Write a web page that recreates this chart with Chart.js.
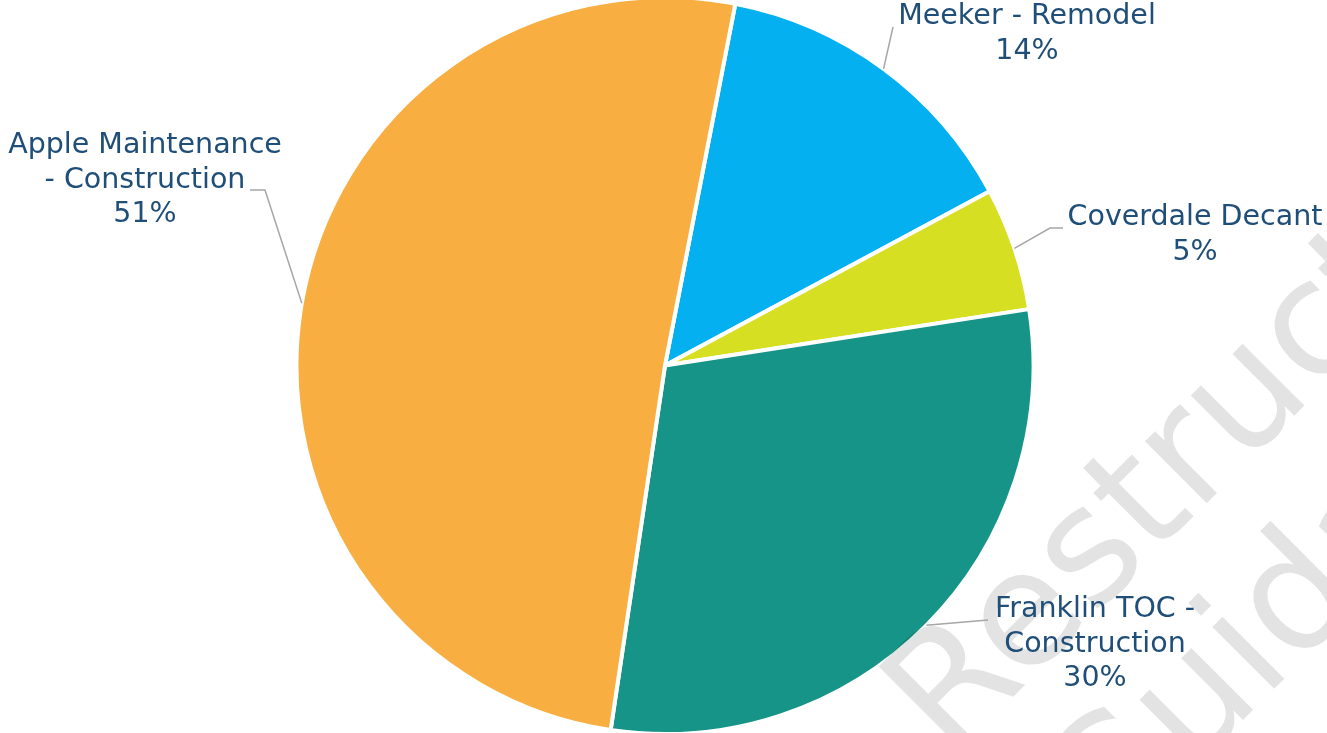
<!DOCTYPE html>
<html>
<head>
<meta charset="utf-8">
<script src="https://cdn.jsdelivr.net/npm/chart.js@4.4.1/dist/chart.umd.min.js"></script>
<style>
  html, body { margin: 0; padding: 0; background: #ffffff; overflow: hidden; }
  body { width: 1327px; height: 733px; position: relative; }
  #wrap { position: absolute; left: 0; top: -5px; width: 1327px; height: 741px; }
</style>
</head>
<body>
<div id="wrap"><canvas id="pieChart"></canvas></div>
<script>
// chart data
const categories = ['Meeker - Remodel', 'Coverdale Decant', 'Franklin TOC - Construction', 'Apple Maintenance - Construction'];
const shares = [14.1, 5.4, 29.8, 50.7];
const sliceColors = ['#04B0EF', '#D7DF23', '#169487', '#F9AE41'];

// how each label is broken into lines
const labelLines = [
    ['Meeker - Remodel'],
    ['Coverdale Decant'],
    ['Franklin TOC -', 'Construction'],
    ['Apple Maintenance', '- Construction']
];

// label placement (page pixels): centre of first text line, leader end, optional elbow
const labelLayout = [
    { x: 1027, y: 17, end: [893, 27] },
    { x: 1195, y: 218, elbow: [1050, 228], end: [1063, 228] },
    { x: 1095, y: 610, end: [988, 620] },
    { x: 145, y: 146, elbow: [265, 190], end: [250, 190] }
];

const OFFSET_Y = 5; // canvas sits 5px above the page top
const LABEL_FONT = "28.5px 'DejaVu Sans', sans-serif";
const LINE_H = 34.5;

const watermarkPlugin = {
    id: 'watermark',
    afterDatasetsDraw(chart) {
        const ctx = chart.ctx;
        const rows = [
            { text: 'Restructure', x: 950, y: 760 },
            { text: 'Guidance', x: 1104, y: 859 }
        ];
        rows.forEach(r => {
            ctx.save();
            ctx.fillStyle = 'rgba(0, 0, 0, 0.11)';
            ctx.font = "160px 'DejaVu Sans', sans-serif";
            ctx.textBaseline = 'alphabetic';
            ctx.textAlign = 'left';
            ctx.translate(r.x, r.y + OFFSET_Y);
            ctx.rotate(-Math.PI / 4);
            ctx.fillText(r.text, 0, 0);
            ctx.restore();
        });
    }
};

const labelPlugin = {
    id: 'sliceLabels',
    afterDraw(chart) {
        const ctx = chart.ctx;
        const meta = chart.getDatasetMeta(0);
        const total = shares.reduce((a, b) => a + b, 0);
        meta.data.forEach((arc, i) => {
            const p = arc.getProps(['x', 'y', 'startAngle', 'endAngle', 'outerRadius'], true);
            const mid = (p.startAngle + p.endAngle) / 2;
            const sx = p.x + Math.cos(mid) * p.outerRadius;
            const sy = p.y + Math.sin(mid) * p.outerRadius;
            const lay = labelLayout[i];

            // leader line
            ctx.save();
            ctx.strokeStyle = '#A6A6A6';
            ctx.lineWidth = 1.5;
            ctx.beginPath();
            ctx.moveTo(sx, sy);
            if (lay.elbow) ctx.lineTo(lay.elbow[0], lay.elbow[1] + OFFSET_Y);
            ctx.lineTo(lay.end[0], lay.end[1] + OFFSET_Y);
            ctx.stroke();
            ctx.restore();

            // text
            const lines = labelLines[i].concat([Math.round(shares[i] / total * 100) + '%']);
            ctx.save();
            ctx.font = LABEL_FONT;
            ctx.fillStyle = '#1F4E79';
            ctx.textAlign = 'center';
            ctx.textBaseline = 'middle';
            lines.forEach((t, k) => ctx.fillText(t, lay.x, lay.y + OFFSET_Y + k * LINE_H));
            ctx.restore();
        });
    }
};

const ctx = document.getElementById('pieChart').getContext('2d');
new Chart(ctx, {
    type: 'pie',
    data: {
        labels: categories,
        datasets: [{
            data: shares,
            backgroundColor: sliceColors,
            borderColor: '#ffffff',
            borderWidth: 4,
            hoverOffset: 0
        }]
    },
    options: {
        responsive: true,
        maintainAspectRatio: false,
        animation: false,
        rotation: 11,
        layout: { padding: { left: 3, top: 0, bottom: 0 } },
        plugins: {
            legend: { display: false },
            tooltip: { enabled: false }
        }
    },
    plugins: [watermarkPlugin, labelPlugin]
});
</script>
</body>
</html>
